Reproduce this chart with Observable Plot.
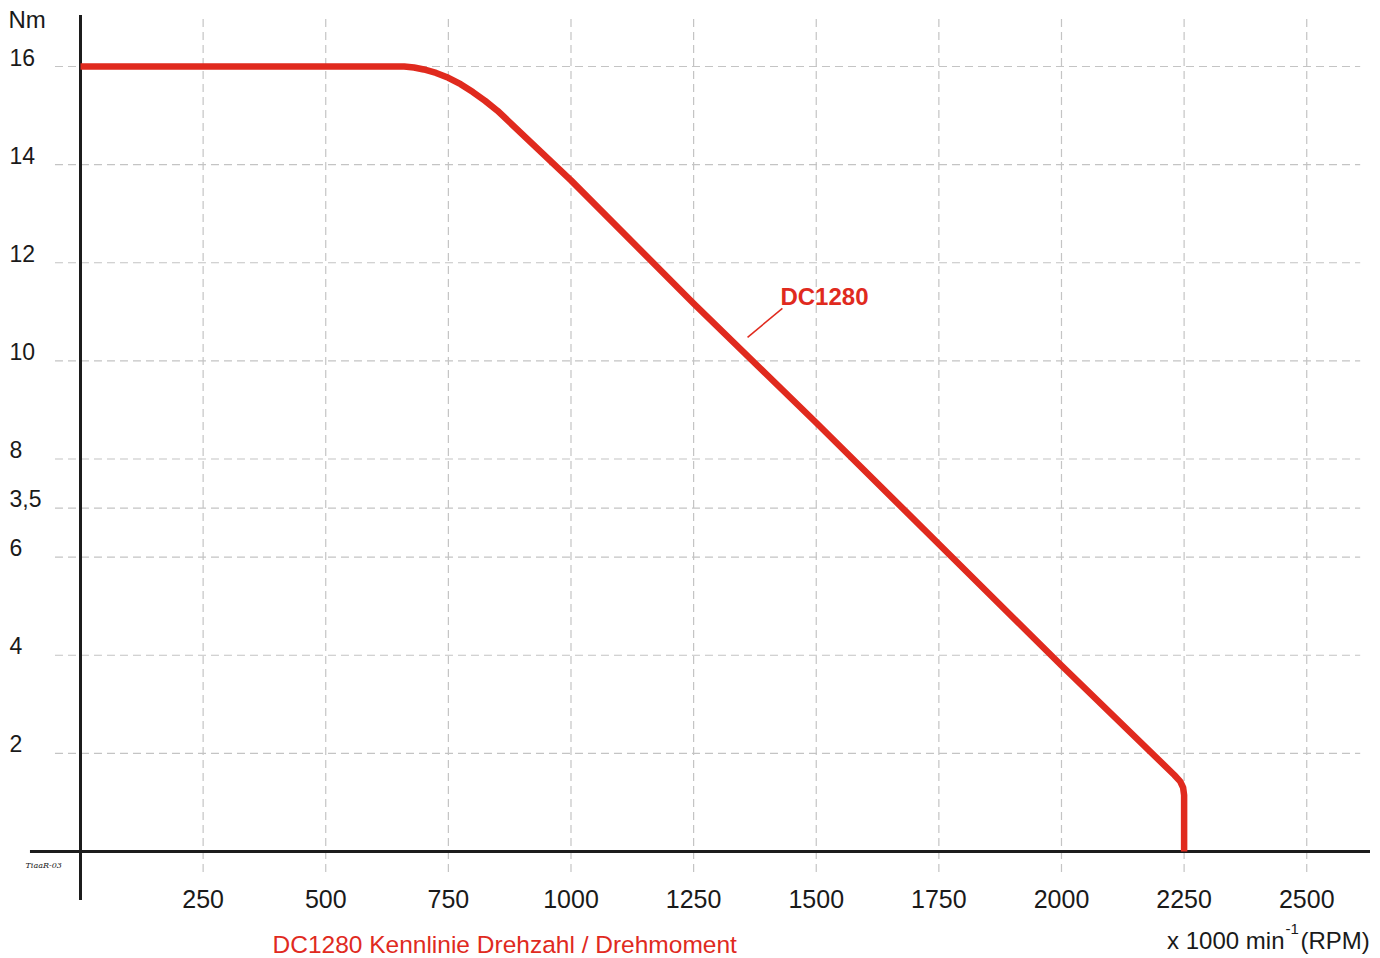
<!DOCTYPE html>
<html>
<head>
<meta charset="utf-8">
<script src="https://cdn.jsdelivr.net/npm/d3@7"></script>
<script src="https://cdn.jsdelivr.net/npm/@observablehq/plot@0.6"></script>
<style>
  html, body { margin: 0; padding: 0; background: #fff; }
  #chart svg { display: block; }
</style>
</head>
<body>
<div id="chart"></div>
<script>
// ---- data ----
const rpm    = [0, 660, 680, 700, 725, 750, 775, 800, 825, 850, 1000, 1250, 1500, 2000, 2230, 2242, 2248, 2250, 2250];
const torque = [16, 16, 15.98, 15.94, 15.87, 15.77, 15.64, 15.48, 15.3, 15.1, 13.68, 11.17, 8.74, 3.79, 1.56, 1.43, 1.3, 1.15, 0];

const xTicks = [250, 500, 750, 1000, 1250, 1500, 1750, 2000, 2250, 2500];
const yTicks = [2, 4, 6, 7, 8, 10, 12, 14, 16];
const yTickLabels = ["2", "4", "6", "3,5", "8", "10", "12", "14", "16"];

const seriesName = "DC1280";
const yUnit = "Nm";
const xUnitMain = "x 1000 min";
const xUnitSup = "-1";
const xUnitTail = "(RPM)";
const caption = "DC1280 Kennlinie Drehzahl / Drehmoment";
const signature = "TiaaR-03";

const curve = rpm.map((r, i) => ({rpm: r, torque: torque[i]}));
const yLabelRows = yTicks.map((v, i) => ({v, label: yTickLabels[i]}));

const RED = "#e02a1e";
const GRID = "#c4c4c4";
const AXIS = "#1c1c1c";
const FONT = "'Liberation Sans', Arial, Helvetica, sans-serif";

const chart = Plot.plot({
  width: 1380,
  height: 958,
  marginLeft: 80,
  marginRight: 10,
  marginTop: 15,
  marginBottom: 107,
  style: {fontFamily: FONT, background: "#fff", color: "#1a1a1a", overflow: "visible"},
  x: {domain: [0, 2630], axis: null},
  y: {domain: [0, 17.04], axis: null},
  marks: [
    // dashed grid
    Plot.ruleY(yTicks, {x1: -51, x2: 2610, stroke: GRID, strokeWidth: 1.2, strokeDasharray: "8,5", clip: false}),
    Plot.ruleX(xTicks, {y1: -0.43, y2: 17.04, stroke: GRID, strokeWidth: 1.2, strokeDasharray: "8,5", clip: false}),
    // axis lines
    Plot.ruleY([0], {x1: -102, x2: 2630, stroke: AXIS, strokeWidth: 3, clip: false}),
    Plot.ruleX([0], {y1: -1.0, y2: 17.04, stroke: AXIS, strokeWidth: 3, clip: false}),
    // x tick labels
    Plot.axisX(xTicks, {tickSize: 0, tickPadding: 39, fontSize: 25, label: null, tickFormat: d => String(d)}),
    // y tick labels (left-aligned, sitting on the grid line)
    Plot.text(yLabelRows, {y: "v", text: "label", frameAnchor: "left", dx: -71, dy: -1,
      textAnchor: "start", lineAnchor: "bottom", fontSize: 23, fill: "#1a1a1a"}),
    // unit labels
    Plot.text([yUnit], {frameAnchor: "top-left", dx: -72, dy: 12, textAnchor: "start", lineAnchor: "bottom",
      fontSize: 24, fill: "#1a1a1a"}),
    Plot.text([xUnitMain], {frameAnchor: "bottom-right", dx: -86, dy: 97, textAnchor: "end", lineAnchor: "bottom",
      fontSize: 24, fill: "#1a1a1a"}),
    Plot.text([xUnitSup], {frameAnchor: "bottom-right", dx: -85, dy: 82, textAnchor: "start", lineAnchor: "bottom",
      fontSize: 15, fill: "#1a1a1a"}),
    Plot.text([xUnitTail], {frameAnchor: "bottom-right", dx: -70, dy: 97, textAnchor: "start", lineAnchor: "bottom",
      fontSize: 24, fill: "#1a1a1a"}),
    // caption
    Plot.text([caption], {frameAnchor: "bottom-left", dx: 192, dy: 101, textAnchor: "start", lineAnchor: "bottom",
      fontSize: 24.5, fill: RED}),
    // signature
    Plot.text([signature], {frameAnchor: "bottom-left", dx: -55, dy: 16, textAnchor: "start", lineAnchor: "bottom",
      fontSize: 8, fontFamily: "'DejaVu Serif', serif", fontStyle: "italic", fill: "#222"}),
    // torque curve
    Plot.line(curve, {x: "rpm", y: "torque", stroke: RED, strokeWidth: 6.5, strokeLinejoin: "round", strokeLinecap: "butt", curve: "linear"}),
    // series label with leader line
    Plot.link([{x1: 1360, y1: 10.48, x2: 1431, y2: 11.07}], {x1: "x1", y1: "y1", x2: "x2", y2: "y2", stroke: RED, strokeWidth: 1.5}),
    Plot.text([{x: 1427, y: 11.13, t: seriesName}], {x: "x", y: "y", text: "t", textAnchor: "start", lineAnchor: "bottom",
      fontSize: 24, fontWeight: "bold", fill: RED})
  ]
});
document.getElementById("chart").append(chart);
</script>
</body>
</html>
